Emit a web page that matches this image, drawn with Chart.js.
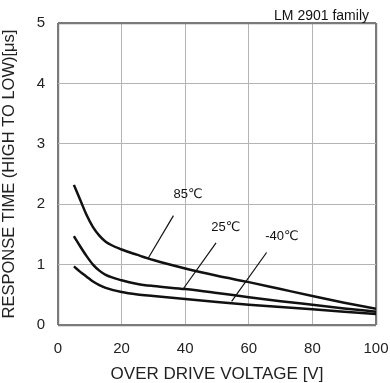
<!DOCTYPE html>
<html>
<head>
<meta charset="utf-8">
<script src="https://cdn.jsdelivr.net/npm/chart.js@4.4.1/dist/chart.umd.min.js"></script>
<style>
  html, body { margin: 0; padding: 0; background: #fff; }
  #wrap { width: 390px; height: 383px; position: relative; }
</style>
</head>
<body>
<div id="wrap"><canvas id="chart"></canvas></div>
<script>
// over drive voltage [V]
const voltage = [5, 7, 9, 11, 13, 15, 20, 25, 30, 40, 50, 60, 70, 80, 90, 100];
// response time (high to low) [us]
const time85 = [2.32, 2.07, 1.82, 1.62, 1.48, 1.38, 1.25, 1.16, 1.075, 0.935, 0.815, 0.71, 0.595, 0.48, 0.37, 0.27];
const time25 = [1.47, 1.30, 1.14, 1.00, 0.90, 0.83, 0.74, 0.68, 0.645, 0.595, 0.53, 0.46, 0.395, 0.335, 0.275, 0.22];
const timeM40 = [0.97, 0.88, 0.80, 0.72, 0.66, 0.615, 0.545, 0.505, 0.48, 0.43, 0.38, 0.335, 0.30, 0.26, 0.22, 0.18];

const xTicks = [0, 20, 40, 60, 80, 100];
const yTicks = [0, 1, 2, 3, 4, 5];

// temperature labels and their leader lines (data coords)
const tempLabels = ['85℃', '25℃', '-40℃'];
const labelX = [40.9, 52.8, 70.4];
const labelY = [2.17, 1.62, 1.46];
const leaderFrom = [[36.3, 1.81], [49.7, 1.36], [65.6, 1.20]];
const leaderTo = [[28.4, 1.11], [39.4, 0.60], [54.6, 0.39]];

const familyNote = 'LM 2901 family';

const FONT = "'Liberation Sans', Arial, 'DejaVu Sans', sans-serif";
const GRID = '#b4b4b4';
const EDGE = '#7a7a7a';

const curve = (label, ys) => ({
  label,
  data: voltage.map((v, i) => ({ x: v, y: ys[i] })),
  borderColor: '#111',
  borderWidth: 2.5,
  pointRadius: 0,
  cubicInterpolationMode: 'monotone',
  fill: false
});

const leaders = leaderFrom.map((p, i) => ({
  label: 'leader ' + tempLabels[i],
  data: [{ x: p[0], y: p[1] }, { x: leaderTo[i][0], y: leaderTo[i][1] }],
  borderColor: '#111',
  borderWidth: 1.2,
  pointRadius: 0,
  tension: 0,
  fill: false
}));

const textPlugin = {
  id: 'texts',
  afterDatasetsDraw(chart) {
    const { ctx, chartArea, scales: { x, y } } = chart;
    ctx.save();
    ctx.fillStyle = '#111';
    ctx.font = '13px ' + FONT;
    ctx.textAlign = 'center';
    ctx.textBaseline = 'middle';
    tempLabels.forEach((t, i) => {
      ctx.fillText(t, x.getPixelForValue(labelX[i]), y.getPixelForValue(labelY[i]));
    });
    ctx.font = '14px ' + FONT;
    ctx.textAlign = 'right';
    ctx.textBaseline = 'alphabetic';
    ctx.fillText(familyNote, chartArea.right - 7, chartArea.top - 3);
    ctx.restore();
  }
};

const edgeColor = (max) => (c) => (c.tick && (c.tick.value === 0 || c.tick.value === max)) ? EDGE : GRID;
const edgeWidth = (max) => (c) => (c.tick && (c.tick.value === 0 || c.tick.value === max)) ? 2.2 : 1;

new Chart(document.getElementById('chart'), {
  type: 'line',
  data: {
    datasets: [curve('85℃', time85), curve('25℃', time25), curve('-40℃', timeM40), ...leaders]
  },
  options: {
    responsive: true,
    maintainAspectRatio: false,
    animation: false,
    layout: { padding: { top: 23, right: 0, left: 0, bottom: 0 } },
    plugins: {
      legend: { display: false },
      tooltip: { enabled: false }
    },
    scales: {
      x: {
        type: 'linear',
        min: 0,
        max: 100,
        afterBuildTicks: (s) => { s.ticks = xTicks.map(v => ({ value: v })); },
        afterFit: (s) => { s.height = 58; s.paddingRight = 14; },
        grid: { color: edgeColor(100), lineWidth: edgeWidth(100), drawTicks: false },
        border: { display: false },
        ticks: { color: '#222', font: { size: 15, family: FONT }, padding: 15, maxRotation: 0 },
        title: {
          display: true,
          text: 'OVER DRIVE VOLTAGE [V]',
          color: '#222',
          font: { size: 17, family: FONT, lineHeight: 1 },
          padding: { top: 0, bottom: 0 }
        }
      },
      y: {
        type: 'linear',
        min: 0,
        max: 5,
        afterBuildTicks: (s) => { s.ticks = yTicks.map(v => ({ value: v })); },
        afterFit: (s) => { s.width = 58; },
        grid: { color: edgeColor(5), lineWidth: edgeWidth(5), drawTicks: false },
        border: { display: false },
        ticks: { color: '#222', font: { size: 15, family: FONT }, padding: 13 },
        title: {
          display: true,
          text: 'RESPONSE TIME (HIGH TO LOW)[μs]',
          color: '#222',
          font: { size: 16.5, family: FONT, lineHeight: 1.1 },
          padding: { top: 0, bottom: 0 }
        }
      }
    }
  },
  plugins: [textPlugin]
});
</script>
</body>
</html>
